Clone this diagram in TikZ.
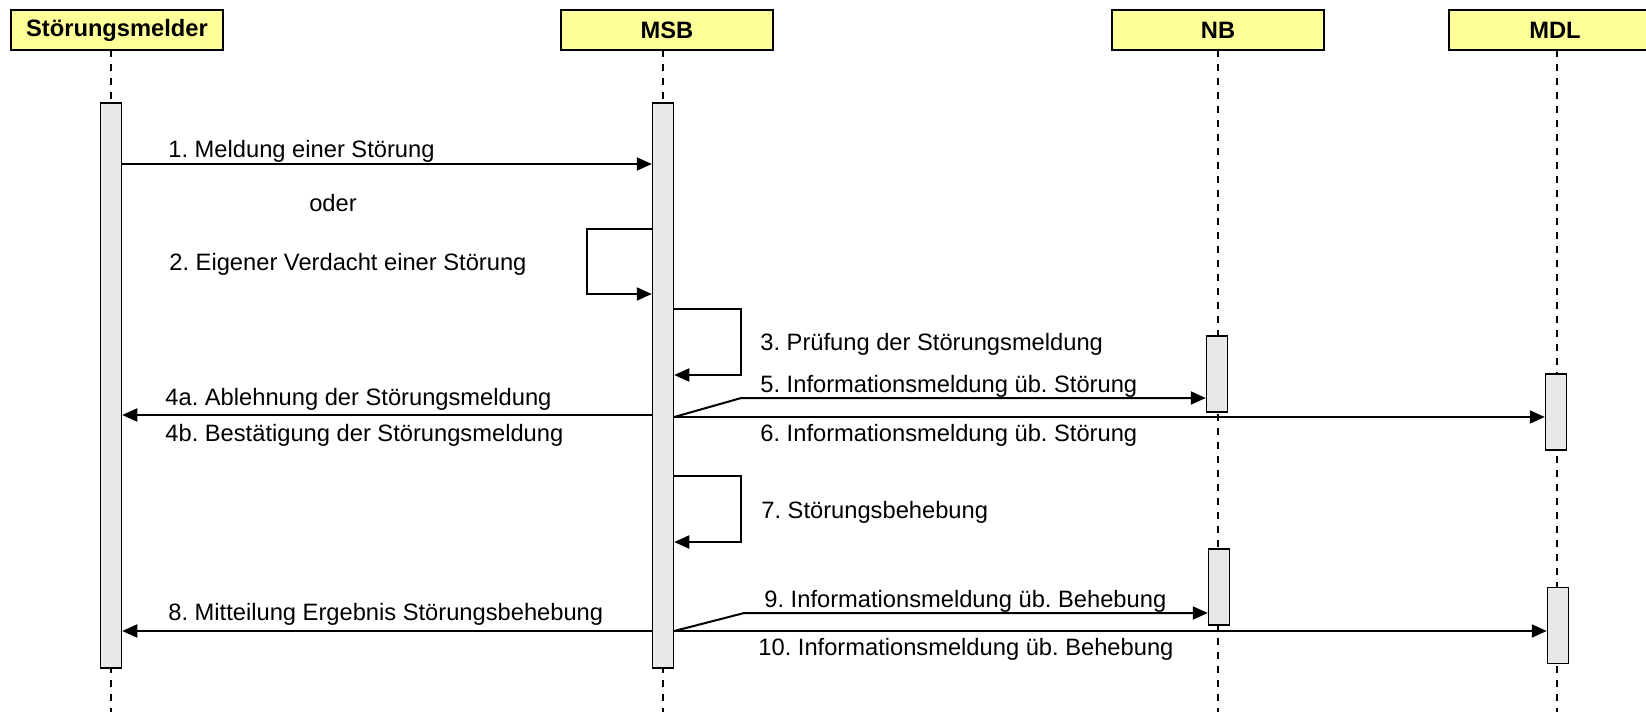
\documentclass[tikz,border=0pt]{standalone}
\usepackage{fontspec}
\setmainfont{Liberation Sans}
\usepackage{xcolor}
\usetikzlibrary{arrows.meta}
\usetikzlibrary{positioning}
\definecolor{headyellow}{HTML}{FFFF99}
\definecolor{bargrey}{HTML}{E8E8E8}
\frenchspacing

\begin{document}
\begin{tikzpicture}[x=0.5pt, y=-0.5pt,
  every node/.style={font=\fontsize{11.85}{14}\selectfont},
  actor/.style={draw, line width=1pt, fill=headyellow, minimum width=106pt,
    minimum height=20pt, inner sep=0pt, font=\fontsize{11.85}{14}\selectfont\bfseries},
  life/.style={line width=1pt, dash pattern=on 3.4pt off 3.6pt},
  bar/.style={draw, line width=0.75pt, fill=bargrey, minimum width=10.5pt, inner sep=0pt},
  msg/.style={line width=1pt, -{Triangle[length=7.5pt, width=6.5pt]}},
  lbl/.style={anchor=base west, inner sep=0pt}]
\fill[white] (0,0) rectangle (1646,712);
\useasboundingbox (0,0) rectangle (1646,712);
% lifelines
\foreach \x in {111,663,1218,1557}
	\draw[life] (\x,50) -- (\x,712);
% activation bars
\node[bar, minimum height=282.5pt] (aS) at (111,385.5) {};
\node[bar, minimum height=282.5pt] (aM) at (663,385.5) {};
\node[bar, minimum height=38pt] (aN1) at (1217,374) {};
\node[bar, minimum height=38pt] (aD1) at (1556,412) {};
\node[bar, minimum height=38pt] (aN2) at (1219,587) {};
\node[bar, minimum height=38pt] (aD2) at (1558,625.5) {};
% headers
\node[actor] (hS) at (117,30) {Störungsmelder};
\node[actor] (hM) at (667,30) {MSB};
\node[actor] (hN) at (1218,30) {NB};
\node[actor] (hD) at (1555,30) {MDL};
% message levels
\foreach \n/\y in {m1/164, m2a/229, m2b/294, m3a/309, m3b/375, m4/415, m5/398,
	m6/417, m7a/476, m7b/542, m9/613, m8/631}
	\coordinate (\n) at (0,\y);
% messages
\draw[msg] (aS.east |- m1) -- (aM.west |- m1);
\draw[msg] (aM.west |- m2a) -- ++(-65,0) |- (aM.west |- m2b);
\draw[msg] (aM.east |- m3a) -- ++(67,0) |- (aM.east |- m3b);
\draw[msg] (aM.west |- m4) -- (aS.east |- m4);
\draw[msg] (aM.east |- m6) -- ++(67,-19) -- (aN1.west |- m5);
\draw[msg] (aM.east |- m6) -- (aD1.west |- m6);
\draw[msg] (aM.east |- m7a) -- ++(67,0) |- (aM.east |- m7b);
\draw[msg] (aM.west |- m8) -- (aS.east |- m8);
\draw[msg] (aM.east |- m8) -- ++(70,-18) -- (aN2.west |- m9);
\draw[msg] (aM.east |- m8) -- (aD2.west |- m8);
% labels
\node[lbl] (l1) at (168,157) {1. Meldung einer Störung};
\node[anchor=base, inner sep=0pt] (lor) at (333,211) {oder};
\node[lbl] (l2) at (169,270) {2. Eigener Verdacht einer Störung};
\node[lbl] (l3) at (760,350) {3. Prüfung der Störungsmeldung};
\node[lbl] (l4a) at (165,405) {4a. Ablehnung der Störungsmeldung};
\node[lbl] (l4b) at (165,441) {4b. Bestätigung der Störungsmeldung};
\node[lbl] (l5) at (760,392) {5. Informationsmeldung üb. Störung};
\node[lbl] (l6) at (760,441) {6. Informationsmeldung üb. Störung};
\node[lbl] (l7) at (761,518) {7. Störungsbehebung};
\node[lbl] (l8) at (168,620) {8. Mitteilung Ergebnis Störungsbehebung};
\node[lbl] (l9) at (764,607) {9. Informationsmeldung üb. Behebung};
\node[lbl] (l10) at (758,655) {10. Informationsmeldung üb. Behebung};
\end{tikzpicture}
\end{document}
